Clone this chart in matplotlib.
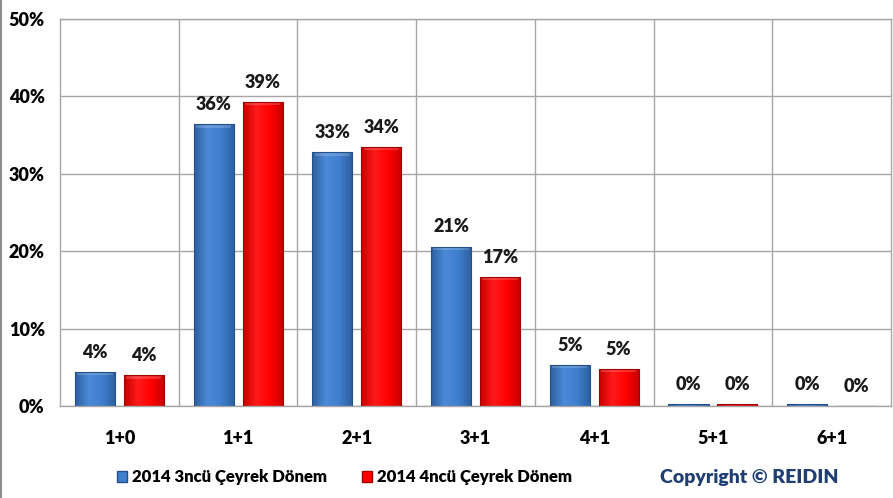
import numpy as np
import matplotlib.pyplot as plt
from matplotlib.lines import Line2D
from matplotlib.patches import Rectangle
from matplotlib.colors import LinearSegmentedColormap

rooms = ['1+0', '1+1', '2+1', '3+1', '4+1', '5+1', '6+1']
q3_2014 = [4.4, 36.4, 32.8, 20.6, 5.3, 0.3, 0.3]
q4_2014 = [4.0, 39.3, 33.5, 16.7, 4.8, 0.2, 0.0]
series_names = ['2014 3ncü Çeyrek Dönem', '2014 4ncü Çeyrek Dönem']

plt.rcParams['font.family'] = ['Lato', 'DejaVu Sans']
plt.rcParams['font.weight'] = 'bold'
FS = 13

fig = plt.figure(figsize=(8.93, 4.98), dpi=100)
ax = fig.add_axes([0.0672, 0.1847, 0.9306, 0.7771])

x = np.arange(len(rooms))
w = 0.337
off = 0.206

blue_cm = LinearSegmentedColormap.from_list('b', ['#2d5f9e', '#4a8ad8', '#3f7fcf', '#2d5f9e'])
red_cm = LinearSegmentedColormap.from_list('r', ['#c80000', '#ff1a1a', '#ff0000', '#c80000'])
grad = np.linspace(0, 1, 64).reshape(1, -1)


def shaded_bars(xs, vals, cmap, edge):
    bars = ax.bar(xs, vals, w, color='none', edgecolor=edge, linewidth=0.8, zorder=3)
    for b in bars:
        x0, y0 = b.get_x(), b.get_y()
        bw, bh = b.get_width(), b.get_height()
        if bh <= 0:
            continue
        im = ax.imshow(grad, cmap=cmap, aspect='auto', zorder=2.5,
                       extent=[x0, x0 + bw, y0, y0 + bh], interpolation='bicubic')
        im.set_clip_path(b)
        # light bevel along the top edge
        top = min(0.45, bh * 0.5)
        ax.add_patch(Rectangle((x0 + bw * 0.06, y0 + bh - top), bw * 0.88, top,
                               color='white', alpha=0.18, lw=0, zorder=2.7))
    for xi, v in zip(xs, vals):
        ax.annotate(f'{v:.0f}%', (xi, v), xytext=(0, 8), textcoords='offset points',
                    ha='center', va='bottom', fontsize=FS, fontweight='heavy', color='#1a1a1a')
    return bars


b1 = shaded_bars(x - off, q3_2014, blue_cm, '#23508a')
b2 = shaded_bars(x + off, q4_2014, red_cm, '#a00000')

ax.set_xlim(-0.5, len(rooms) - 0.5)
ax.set_ylim(0, 50)
ax.set_yticks(np.arange(0, 51, 10))
ax.set_yticklabels([f'{t}%' for t in range(0, 51, 10)], fontsize=FS, fontweight='heavy')
ax.set_xticks(x)
ax.set_xticklabels(rooms, fontsize=FS, fontweight='heavy')
ax.tick_params(axis='x', length=0, pad=17)
ax.tick_params(axis='y', length=0, pad=11)

ax.yaxis.grid(True, color='#a6a6a6', lw=1)
for xb in np.arange(0.5, len(rooms) - 0.5, 1):
    ax.axvline(xb, color='#a6a6a6', lw=1, zorder=1)
ax.set_axisbelow(True)
for s in ax.spines.values():
    s.set_color('#a6a6a6')
    s.set_linewidth(1)

handles = [Rectangle((0, 0), 1, 1, fc='#3f7fcf', ec='#23508a'),
           Rectangle((0, 0), 1, 1, fc='#ff0000', ec='#a00000')]
fig.legend(handles, series_names, loc='center left', bbox_to_anchor=(0.131, 0.042),
           ncol=2, frameon=False, handlelength=0.6, handleheight=0.6,
           handletextpad=0.3, columnspacing=2.1, borderaxespad=0, borderpad=0,
           prop={'weight': 'heavy', 'size': 12})

fig.text(0.739, 0.042, 'Copyright © REIDIN', fontsize=14, fontweight='heavy',
         color='#1f3f73', va='center', ha='left')

# outer border on the left edge
fig.add_artist(Line2D([0.001, 0.001], [0, 1], color='#8c8c8c', lw=1.5, transform=fig.transFigure))

fig.savefig('out.png', dpi=100)
